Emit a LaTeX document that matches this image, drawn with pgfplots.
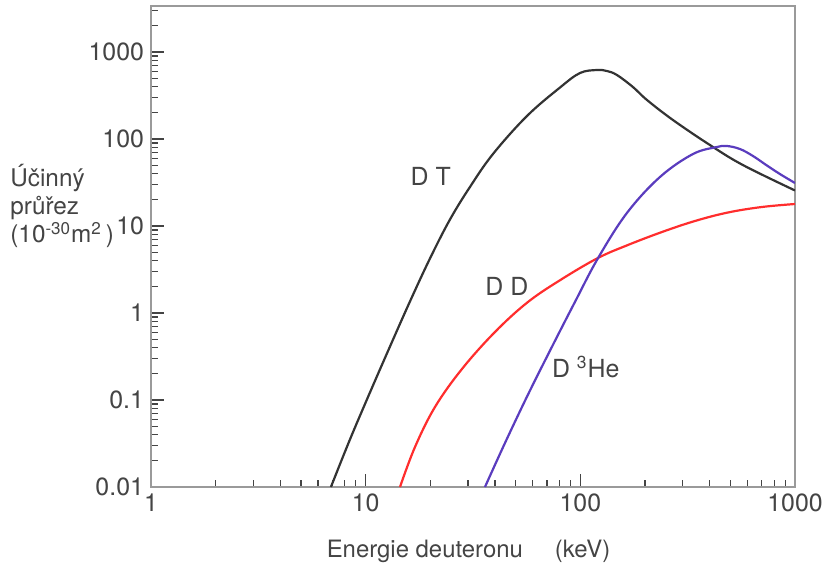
\documentclass[border=0pt]{standalone}
\usepackage{fontspec}
\setmainfont{TeX Gyre Heros}
\usepackage{pgfplots}
\pgfplotsset{compat=1.18}
\definecolor{dtgray}{HTML}{333333}
\definecolor{ddred}{HTML}{FF2D2D}
\definecolor{hepurple}{HTML}{5A3CBE}
\definecolor{labgray}{HTML}{444444}
\definecolor{framegray}{HTML}{9A9A9A}

\begin{document}
\begin{tikzpicture}
\useasboundingbox (-75.5bp,-40bp) rectangle (337bp,243.5bp);
\begin{axis}[
  scale only axis, width=322bp, height=240.5bp,
  xmode=log, ymode=log,
  xmin=1, xmax=1000, ymin=0.01, ymax=3380,
  xtick={1,10,100,1000}, xticklabels={1,10,100,1000},
  ytick={0.01,0.1,1,10,100,1000}, yticklabels={0.01,0.1,1,10,100,1000},
  minor xtick={2,3,4,5,6,7,8,9,20,30,40,50,60,70,80,90,200,300,400,500,600,700,800,900},
  minor ytick={0.02,0.03,0.04,0.05,0.06,0.07,0.08,0.09,0.2,0.3,0.4,0.5,0.6,0.7,0.8,0.9,2,3,4,5,6,7,8,9,20,30,40,50,60,70,80,90,200,300,400,500,600,700,800,900,2000,3000},
  xtick pos=bottom, ytick pos=left,
  tick align=inside,
  major tick length=6.5bp, minor tick length=3.5bp,
  axis line style={framegray, line width=0.9bp},
  every tick/.style={labgray, line width=0.6bp},
  tick label style={font=\fontsize{12.5}{14}\selectfont, color=labgray},
  /pgf/number format/assume math mode=true,
]
% D-T
\addplot[dtgray, line width=1.1bp, smooth, tension=0.6] coordinates {
  (6.89,0.0100) (8.45,0.0352) (10.47,0.122) (12.98,0.412) (16.08,1.356)
  (19.93,4.23) (24.70,11.88) (30.60,28.08) (39.17,67.2) (56.4,183.8)
  (80.4,390.8) (99.6,573.6) (119.5,621) (133.0,604.8) (148.1,544)
  (175.8,396) (204.3,281) (270,165.4) (401.5,85.3) (572,50.2) (1000,25.6)
};
% D-D
\addplot[ddred, line width=1.1bp, smooth, tension=0.6] coordinates {
  (14.45,0.0100) (16.97,0.0288) (21.03,0.0831) (28.09,0.2272) (40.02,0.605)
  (57.0,1.338) (82.1,2.459) (120.8,4.29) (166.6,6.05) (240,8.53)
  (342,11.42) (487,14.30) (701,16.54) (1000,17.90)
};
% D-3He
\addplot[hepurple, line width=1.1bp, smooth, tension=0.6] coordinates {
  (35.96,0.0100) (44.55,0.0320) (57.0,0.1150) (73.8,0.410) (94.4,1.341)
  (120.8,4.26) (164.8,14.11) (234.9,36.6) (334.6,67.2) (432.8,80.9)
  (481.7,83.1) (553.7,76.8) (636.9,63.8) (739.9,49.6) (850.6,39.6) (1000,31.2)
};
\node[labgray, font=\fontsize{12.5}{14}\selectfont] at (axis cs:20.1,37.6) {D T};
\node[labgray, font=\fontsize{12.5}{14}\selectfont] at (axis cs:45.5,2.04) {D D};
\node[labgray, font=\fontsize{12.5}{14}\selectfont] at (axis cs:106,0.239) {D \textsuperscript{3}He};
\end{axis}
\begin{scope}[every node/.style={labgray, font=\fontsize{12.2}{14}\selectfont, anchor=base west, inner sep=0pt}]
\node at (-70.5bp,150bp) {Účinný};
\node at (-70.5bp,136bp) {průřez};
\node at (-70.5bp,122bp) {(10\textsuperscript{-30}m\textsuperscript{2}\,)};
\end{scope}
\node[labgray, font=\fontsize{12}{14}\selectfont, anchor=base, inner sep=0pt] at (158.75bp,-35bp) {Energie deuteronu\hspace{16bp}(keV)};
\end{tikzpicture}
\end{document}
